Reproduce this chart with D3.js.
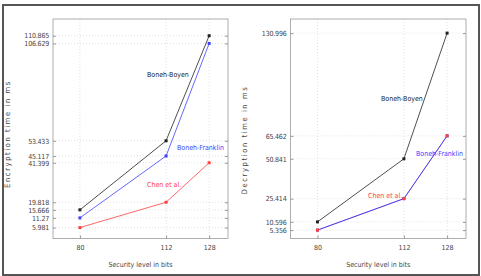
<!DOCTYPE html>
<html>
<head>
<meta charset="utf-8">
<script src="https://cdn.jsdelivr.net/npm/d3@7"></script>
<style>
  body { margin: 0; background: #fff; }
  text { font-family: "DejaVu Sans Condensed", "DejaVu Sans", sans-serif; }
</style>
</head>
<body>
<script>
const w = 481;
const h = 276;

const levels = [80, 112, 128];

// encryption (left)
const encBB = [15.666, 53.433, 110.865];
const encBF = [11.27, 45.117, 106.629];
const encChen = [5.981, 19.818, 41.399];
const encTicks = [5.981, 11.27, 15.666, 19.818, 41.399, 45.117, 53.433, 106.629, 110.865];

// decryption (right)
const decBB = [10.596, 50.841, 130.996];
const decBF = [5.356, 25.414, 65.462];
const decChen = [5.356, 25.414, 65.462];
const decTicks = [5.356, 10.596, 25.414, 50.841, 65.462, 130.996];

const svg = d3.select("body").append("svg")
  .attr("width", w).attr("height", h);

// outer frame
svg.append("rect").attr("x", 3).attr("y", 5).attr("width", 476).attr("height", 270)
  .attr("fill", "none").attr("stroke", "#555").attr("stroke-width", 2);

function panel(opt) {
  const x = d3.scaleLinear().domain([70, 135]).range([opt.left, opt.right]);
  const y = d3.scaleLinear().domain([0, opt.ymax]).range([238.5, 19]);
  const g = svg.append("g");

  // grid
  g.selectAll(".gy").data(opt.ticks).enter().append("line")
    .attr("x1", opt.left).attr("x2", opt.right)
    .attr("y1", d => y(d)).attr("y2", d => y(d))
    .attr("stroke", "#ccc").attr("stroke-width", 0.6).attr("stroke-dasharray", "1,2");
  g.selectAll(".gx").data(levels).enter().append("line")
    .attr("x1", d => x(d)).attr("x2", d => x(d))
    .attr("y1", 19).attr("y2", 238.5)
    .attr("stroke", "#ccc").attr("stroke-width", 0.6).attr("stroke-dasharray", "1,2");

  g.append("rect").attr("x", opt.left).attr("y", 19)
    .attr("width", opt.right - opt.left).attr("height", 219.5)
    .attr("fill", "none").attr("stroke", "#999").attr("stroke-width", 0.8);

  const yAxis = d3.axisLeft(y).tickValues(opt.ticks).tickFormat(d => String(d))
    .tickSizeInner(-3).tickSizeOuter(0).tickPadding(4);
  const ya = g.append("g").attr("transform", "translate(" + opt.left + ",0)").call(yAxis);
  ya.select(".domain").remove();
  ya.selectAll("line").attr("stroke", "#999");
  ya.selectAll("text").style("font-size", "7px").style("fill", "#444").style("letter-spacing", "-0.2px");

  const yAxisR = d3.axisRight(y).tickValues(opt.ticks).tickFormat("").tickSizeInner(-3).tickSizeOuter(0);
  const yr = g.append("g").attr("transform", "translate(" + opt.right + ",0)").call(yAxisR);
  yr.select(".domain").remove();
  yr.selectAll("line").attr("stroke", "#999");

  const xAxis = d3.axisBottom(x).tickValues(levels).tickSizeInner(-3).tickSizeOuter(0).tickPadding(7);
  const xa = g.append("g").attr("transform", "translate(0,238.5)").call(xAxis);
  xa.select(".domain").remove();
  xa.selectAll("line").attr("stroke", "#999");
  xa.selectAll("text").style("font-size", "7px").style("fill", "#444");

  const line = d3.line().x((d, i) => x(levels[i])).y(d => y(d));
  opt.series.forEach(s => {
    g.append("path").datum(s.values).attr("d", line)
      .attr("fill", "none").attr("stroke", s.color).attr("stroke-width", s.lw);
  });
  opt.series.slice().reverse().forEach(s => {
    g.selectAll(null).data(s.values).enter().append("rect")
      .attr("x", (d, i) => x(levels[i]) - 1.5).attr("y", d => y(d) - 1.5)
      .attr("width", 3).attr("height", 3).style("fill", s.color);
  });
  opt.series.forEach(s => {
    g.append("text").attr("x", s.lx).attr("y", s.ly).text(s.name)
      .style("font-size", "7px").style("fill", s.color);
  });

  svg.append("text").attr("x", (opt.left + opt.right) / 2).attr("y", 267)
    .attr("text-anchor", "middle").style("font-size", "7px").style("fill", "#444")
    .text("Security level in bits");
  svg.append("text").attr("transform", "translate(" + opt.tx + "," + opt.ty + ") rotate(-90)")
    .attr("text-anchor", "middle").style("font-size", "7.5px").style("letter-spacing", "1.6px")
    .style("fill", "#444").text(opt.ytitle);
}

panel({
  left: 53, right: 228, ymax: 120, ticks: encTicks, ytitle: "Encryption time in ms",
  tx: 10, ty: 134,
  series: [
    { name: "Boneh-Boyen", values: encBB, color: "#222", lw: 0.8, lx: 147, ly: 77 },
    { name: "Boneh-Franklin", values: encBF, color: "#4040ff", lw: 0.8, lx: 177, ly: 150 },
    { name: "Chen et al.", values: encChen, color: "#ff4040", lw: 0.8, lx: 147, ly: 187 }
  ]
});

panel({
  left: 290.5, right: 466, ymax: 140, ticks: decTicks, ytitle: "Decryption time in ms",
  tx: 247, ty: 140,
  series: [
    { name: "Chen et al.", values: decChen, color: "#ff4040", lw: 0.5, lx: 368, ly: 198 },
    { name: "Boneh-Franklin", values: decBF, color: "#4040ff", lw: 1, lx: 416, ly: 156 },
    { name: "Boneh-Boyen", values: decBB, color: "#222", lw: 0.8, lx: 381, ly: 101 }
  ]
});
</script>
</body>
</html>
